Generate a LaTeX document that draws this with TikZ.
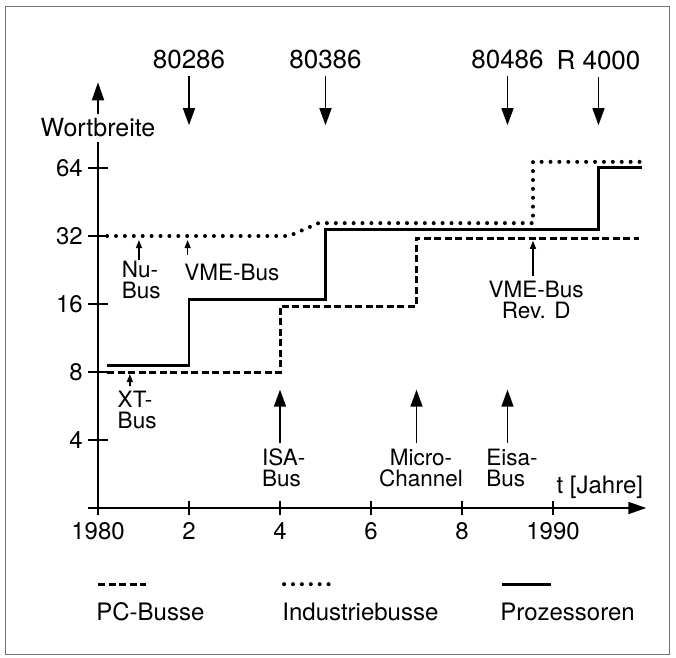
\documentclass[tikz,border=0pt]{standalone}
\usepackage{fontspec}
\setmainfont{TeX Gyre Heros}
\usetikzlibrary{arrows.meta}

\def\yearsep{45.5pt}
\def\bitsep{68pt}

\begin{document}
\begin{tikzpicture}[x=\yearsep, y=\bitsep, line join=miter]
		\tikzstyle{frame}
		=[draw=black!55, line width=1pt]
		\tikzstyle{axis}
		=[line width=1.8pt, -{Triangle[length=18pt,width=12pt]}]
		\tikzstyle{tick}
		=[line width=1.5pt]
		\tikzstyle{ticklabel}
		=[inner sep=0pt, font=\fontsize{24}{20}\selectfont]
		\tikzstyle{cpu}
		=[inner sep=2pt, font=\fontsize{26}{22}\selectfont]
		\tikzstyle{annot}
		=[inner sep=0pt, align=center, font=\fontsize{22.5}{21}\selectfont]
		\tikzstyle{bigarrow}
		=[line width=1.6pt, -{Triangle[length=17pt,width=12pt]}]
		\tikzstyle{smallarrow}
		=[line width=1.4pt, -{Triangle[length=8pt,width=6pt]}]
		\tikzstyle{pcbus}
		=[line width=3pt, dash pattern=on 7pt off 3.5pt]
		\tikzstyle{industrie}
		=[line width=4pt, line cap=round, dash pattern=on 0pt off 8.9pt]
		\tikzstyle{prozessor}
		=[line width=2.8pt]
		
		% Fix the page and draw the frame
		\useasboundingbox (-98pt,-81pt) rectangle (578pt,576pt);
		\draw[frame] (-92pt,-78pt) rectangle (571pt,569pt);
		
		% Draw the axes
		\draw[axis] (-0.22,1) -- (12.05,1);
		\draw[axis] (0,0.91) -- (0,7.26);
		\node[ticklabel, fill=white, inner sep=4.5pt, font=\fontsize{25}{20}\selectfont] (wb) at (0,6.59) {Wortbreite};
		\node[ticklabel] (tj) at (11.03,1.31) {t [Jahre]};
		
		% Ticks on the time axis
		\foreach \t / \lab in {0/1980,2/2,4/4,6/6,8/8,10/1990} {
			\draw[tick] (\t,1) ++(0,-7pt) -- ++(0,14pt);
			\node[ticklabel] (year-\t) at (\t,0.66) {\lab};
		}
		
		% Ticks on the width axis
		\foreach \l / \lab in {2/4,3/8,4/16,5/32,6/64} {
			\draw[tick] (0,\l) ++(-10pt,0) -- ++(20pt,0);
			\node[ticklabel, anchor=east, xshift=-15pt] (width-\l) at (0,\l) {\lab};
		}
		
		% The three step lines
		\draw[pcbus] (0.2,2.99) -| (4,3.97) -| (7,4.97) -- (11.9,4.97);
		\draw[industrie] (0.2,5) -- (4.2,5) -- (4.85,5.19) -- (9.56,5.19) -- (9.56,6.09) -- (11.93,6.09);
		\draw[prozessor] (0.2,3.09) -| (2,4.07) -| (5,5.09) -| (11,6.01) -- (11.95,6.01);
		
		% Processors on top
		\foreach \t / \name in {2/80286,5/80386,9/80486,11/R 4000} {
			\node[cpu] (cpu-\t) at (\t,7.59) {\name};
			\coordinate (cpu-\t-tip) at (\t,6.63);
			\draw[bigarrow, shorten <=5pt] (cpu-\t) -- (cpu-\t-tip);
		}
		
		% PC buses from below
		\foreach \t in {4,7,9} {
			\coordinate (bus-\t-base) at (\t,1.96);
			\coordinate (bus-\t-tip) at (\t,2.74);
			\draw[bigarrow] (bus-\t-base) -- (bus-\t-tip);
		}
		\node[annot, align=left] (isa) at (4.08,1.59) {ISA-\\Bus};
		\node[annot] (mca) at (7.1,1.59) {Micro-\\Channel};
		\node[annot, align=left] (eisa) at (9.1,1.59) {Eisa-\\Bus};
		
		% Small arrows to the bus lines
		\foreach \name / \t / \a / \b in {nu/0.9/4.65/4.94, vme/1.97/4.72/4.94, xt/0.7/2.79/2.97, vmed/9.56/4.41/4.93} {
			\coordinate (\name-base) at (\t,\a);
			\coordinate (\name-tip) at (\t,\b);
			\draw[smallarrow] (\name-base) -- (\name-tip);
		}
		\node[annot, align=left] (nubus) at (0.95,4.35) {Nu-\\Bus};
		\node[annot] (vmebus) at (2.94,4.46) {VME-Bus};
		\node[annot, align=left] (xtbus) at (0.86,2.44) {XT-\\Bus};
		\node[annot] (vmerevd) at (9.63,4.06) {VME-Bus\\Rev. D};
		
		% Legend
		\draw[pcbus] (0,-0.12) -- (1.05,-0.12);
		\draw[industrie] (4.09,-0.12) -- (5.14,-0.12);
		\draw[prozessor] (8.88,-0.12) -- (9.96,-0.12);
		\node[ticklabel, anchor=west] (leg-pc) at (-0.04,-0.53) {PC-Busse};
		\node[ticklabel, anchor=west] (leg-ind) at (4.05,-0.53) {Industriebusse};
		\node[ticklabel, anchor=west] (leg-proz) at (8.84,-0.53) {Prozessoren};
	\end{tikzpicture}
\end{document}
